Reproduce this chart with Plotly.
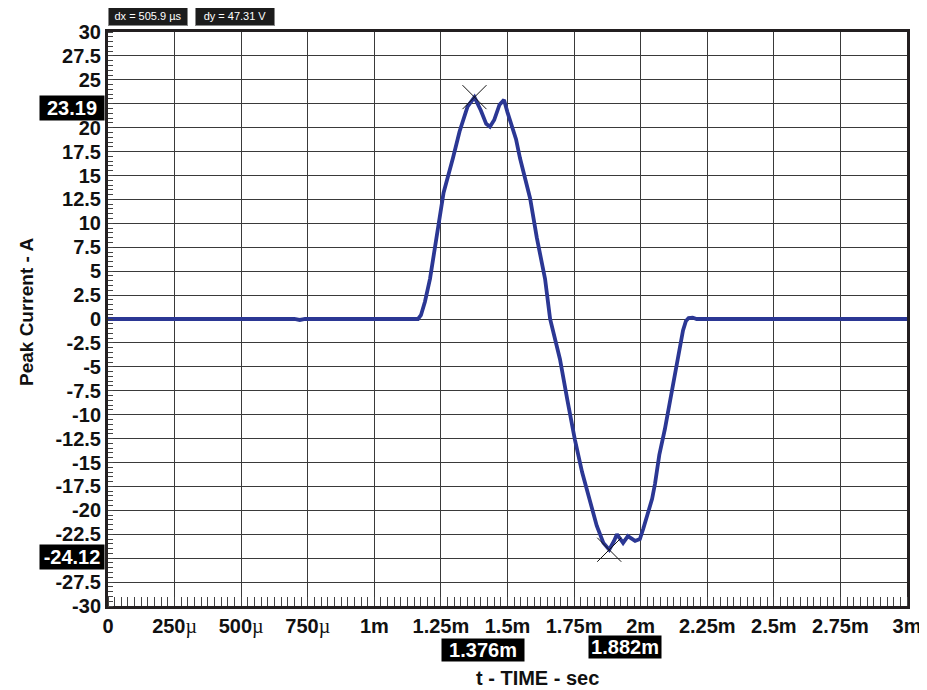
import plotly.graph_objects as go

# time in ms, current in A
time_ms = [0.0, 0.70, 0.72, 0.74, 1.15, 1.164, 1.175, 1.19, 1.209, 1.235, 1.26, 1.295, 1.32,
           1.35, 1.376, 1.40, 1.42, 1.434, 1.45, 1.47, 1.487, 1.50, 1.532, 1.547, 1.585, 1.61,
           1.641, 1.66, 1.697, 1.725, 1.753, 1.78, 1.81, 1.835, 1.86, 1.882, 1.90, 1.911,
           1.934, 1.952, 1.979, 1.997, 2.01, 2.043, 2.054, 2.07, 2.091, 2.11, 2.129, 2.145,
           2.159, 2.17, 2.18, 2.195, 2.21, 2.25, 3.0]
current_a = [0.0, 0.0, -0.1, 0.0, 0.0, 0.0, 0.4, 1.8, 4.2, 9.1, 13.2, 16.8, 19.6,
             22.2, 23.19, 21.8, 20.4, 20.1, 20.8, 22.4, 22.9, 21.6, 18.8, 16.8, 12.6, 8.5,
             4.2, 0.0, -4.2, -8.5, -12.6, -16.0, -19.2, -21.6, -23.4, -24.12, -23.2, -22.5,
             -23.4, -22.7, -23.2, -23.0, -21.9, -18.8, -17.2, -14.2, -11.5, -8.5, -5.8, -3.2,
             -1.2, -0.2, 0.1, 0.15, 0.0, 0.0, 0.0]

cursor_t = [1.376, 1.882]
cursor_v = [23.19, -24.12]

x_tickvals = [0, 0.25, 0.5, 0.75, 1.0, 1.25, 1.5, 1.75, 2.0, 2.25, 2.5, 2.75, 3.0]
mu = "<span style=\"font-family:'Liberation Serif';font-weight:normal\">µ</span>"
x_ticktext = ["0", "250" + mu, "500" + mu, "750" + mu, "1m", "1.25m", "1.5m", "1.75m",
              "2m", "2.25m", "2.5m", "2.75m", "3m"]
y_tickvals = [30, 27.5, 25, 22.5, 20, 17.5, 15, 12.5, 10, 7.5, 5, 2.5, 0, -2.5, -5, -7.5,
              -10, -12.5, -15, -17.5, -20, -22.5, -25, -27.5, -30]
y_ticktext = ["30", "27.5", "25", "", "20", "17.5", "15", "12.5", "10", "7.5", "5", "2.5",
              "0", "-2.5", "-5", "-7.5", "-10", "-12.5", "-15", "-17.5", "-20", "-22.5", "",
              "-27.5", "-30"]

FONT = "Liberation Sans, Arial, sans-serif"
grid_c = "#3a3a3a"

# page body has an 8px margin: figure drawn at (8, 8)
fig = go.Figure()
fig.add_trace(go.Scatter(x=time_ms, y=current_a, mode="lines",
                         line=dict(color="#2B3794", width=3.8), hoverinfo="skip"))
fig.add_trace(go.Scatter(x=cursor_t, y=cursor_v, mode="markers",
                         marker=dict(symbol="x-thin-open", size=24, color="#111",
                                     line=dict(color="#111", width=1)), hoverinfo="skip"))

fig.update_layout(
    width=919, height=682,
    margin=dict(l=100, r=20, t=24, b=84, autoexpand=False),
    paper_bgcolor="white", plot_bgcolor="white",
    showlegend=False,
    font=dict(family=FONT, color="#111"),
    xaxis=dict(range=[0, 3], tickvals=x_tickvals, ticktext=x_ticktext,
               automargin=False,
               showgrid=True, gridcolor=grid_c, gridwidth=1.2,
               ticks="", zeroline=False,
               showline=True, linecolor="#231f20", linewidth=3, mirror=True,
               tickfont=dict(family=FONT, size=20, color="#111", weight="bold"),
               ticklabelstandoff=0,
               minor=dict(dtick=0.025, ticks="inside", ticklen=9, tickcolor="#444",
                          tickwidth=1, showgrid=False)),
    yaxis=dict(range=[-30, 30], tickvals=y_tickvals, ticktext=y_ticktext,
               automargin=False,
               showgrid=True, gridcolor=grid_c, gridwidth=1.2,
               ticks="", zeroline=False,
               showline=True, linecolor="#231f20", linewidth=3, mirror=True,
               tickfont=dict(family=FONT, size=20, color="#111", weight="bold"),
               ticklabelstandoff=0,
               minor=dict(dtick=0.5, ticks="inside", ticklen=5, tickcolor="#444",
                          tickwidth=1, showgrid=False)),
)

ann = []
# axis titles (positions expressed via screenshot pixels; plot area 108..907 x 32..606)
ann.append(dict(text="<b>t - TIME - sec</b>", xref="paper", yref="paper",
                x=(537 - 108) / 799, y=(606 - 678) / 574, showarrow=False,
                xanchor="center", yanchor="middle",
                font=dict(family=FONT, size=20, color="#111")))
ann.append(dict(text="<b>Peak Current - A</b>", xref="paper", yref="paper",
                x=(26 - 108) / 799, y=(606 - 312) / 574, showarrow=False, textangle=-90,
                xanchor="center", yanchor="middle",
                font=dict(family=FONT, size=19, color="#111")))
# cursor value boxes on y
for val, ypix in zip(cursor_v, [108, 557]):
    ann.append(dict(text="<b>%.2f</b>" % val, xref="paper", yref="paper",
                    x=(72 - 108) / 799, y=(606 - ypix) / 574, showarrow=False,
                    xanchor="center", yanchor="middle", bgcolor="black",
                    width=64, height=24, borderpad=0,
                    font=dict(family=FONT, size=20, color="white")))
# cursor time boxes on x
for t, cx, cy, w in zip(cursor_t, [483, 625], [650, 647], [82, 72]):
    ann.append(dict(text="<b>%.3fm</b>" % t, xref="paper", yref="paper",
                    x=(cx - 108) / 799, y=(606 - cy) / 574, showarrow=False,
                    xanchor="center", yanchor="middle", bgcolor="black",
                    width=w, height=22, borderpad=0,
                    font=dict(family=FONT, size=20, color="white")))
# dx / dy readouts
for txt, cx in zip(["dx = 505.9 µs", "dy = 47.31 V"], [148, 235]):
    ann.append(dict(text=txt, xref="paper", yref="paper",
                    x=(cx - 108) / 799, y=(606 - 16) / 574, showarrow=False,
                    xanchor="center", yanchor="middle", bgcolor="#1c1c1c",
                    bordercolor="#888", borderwidth=1, width=78, height=18, borderpad=0,
                    font=dict(family=FONT, size=11, color="white")))
fig.update_layout(annotations=ann)

fig.write_html("out.html")
